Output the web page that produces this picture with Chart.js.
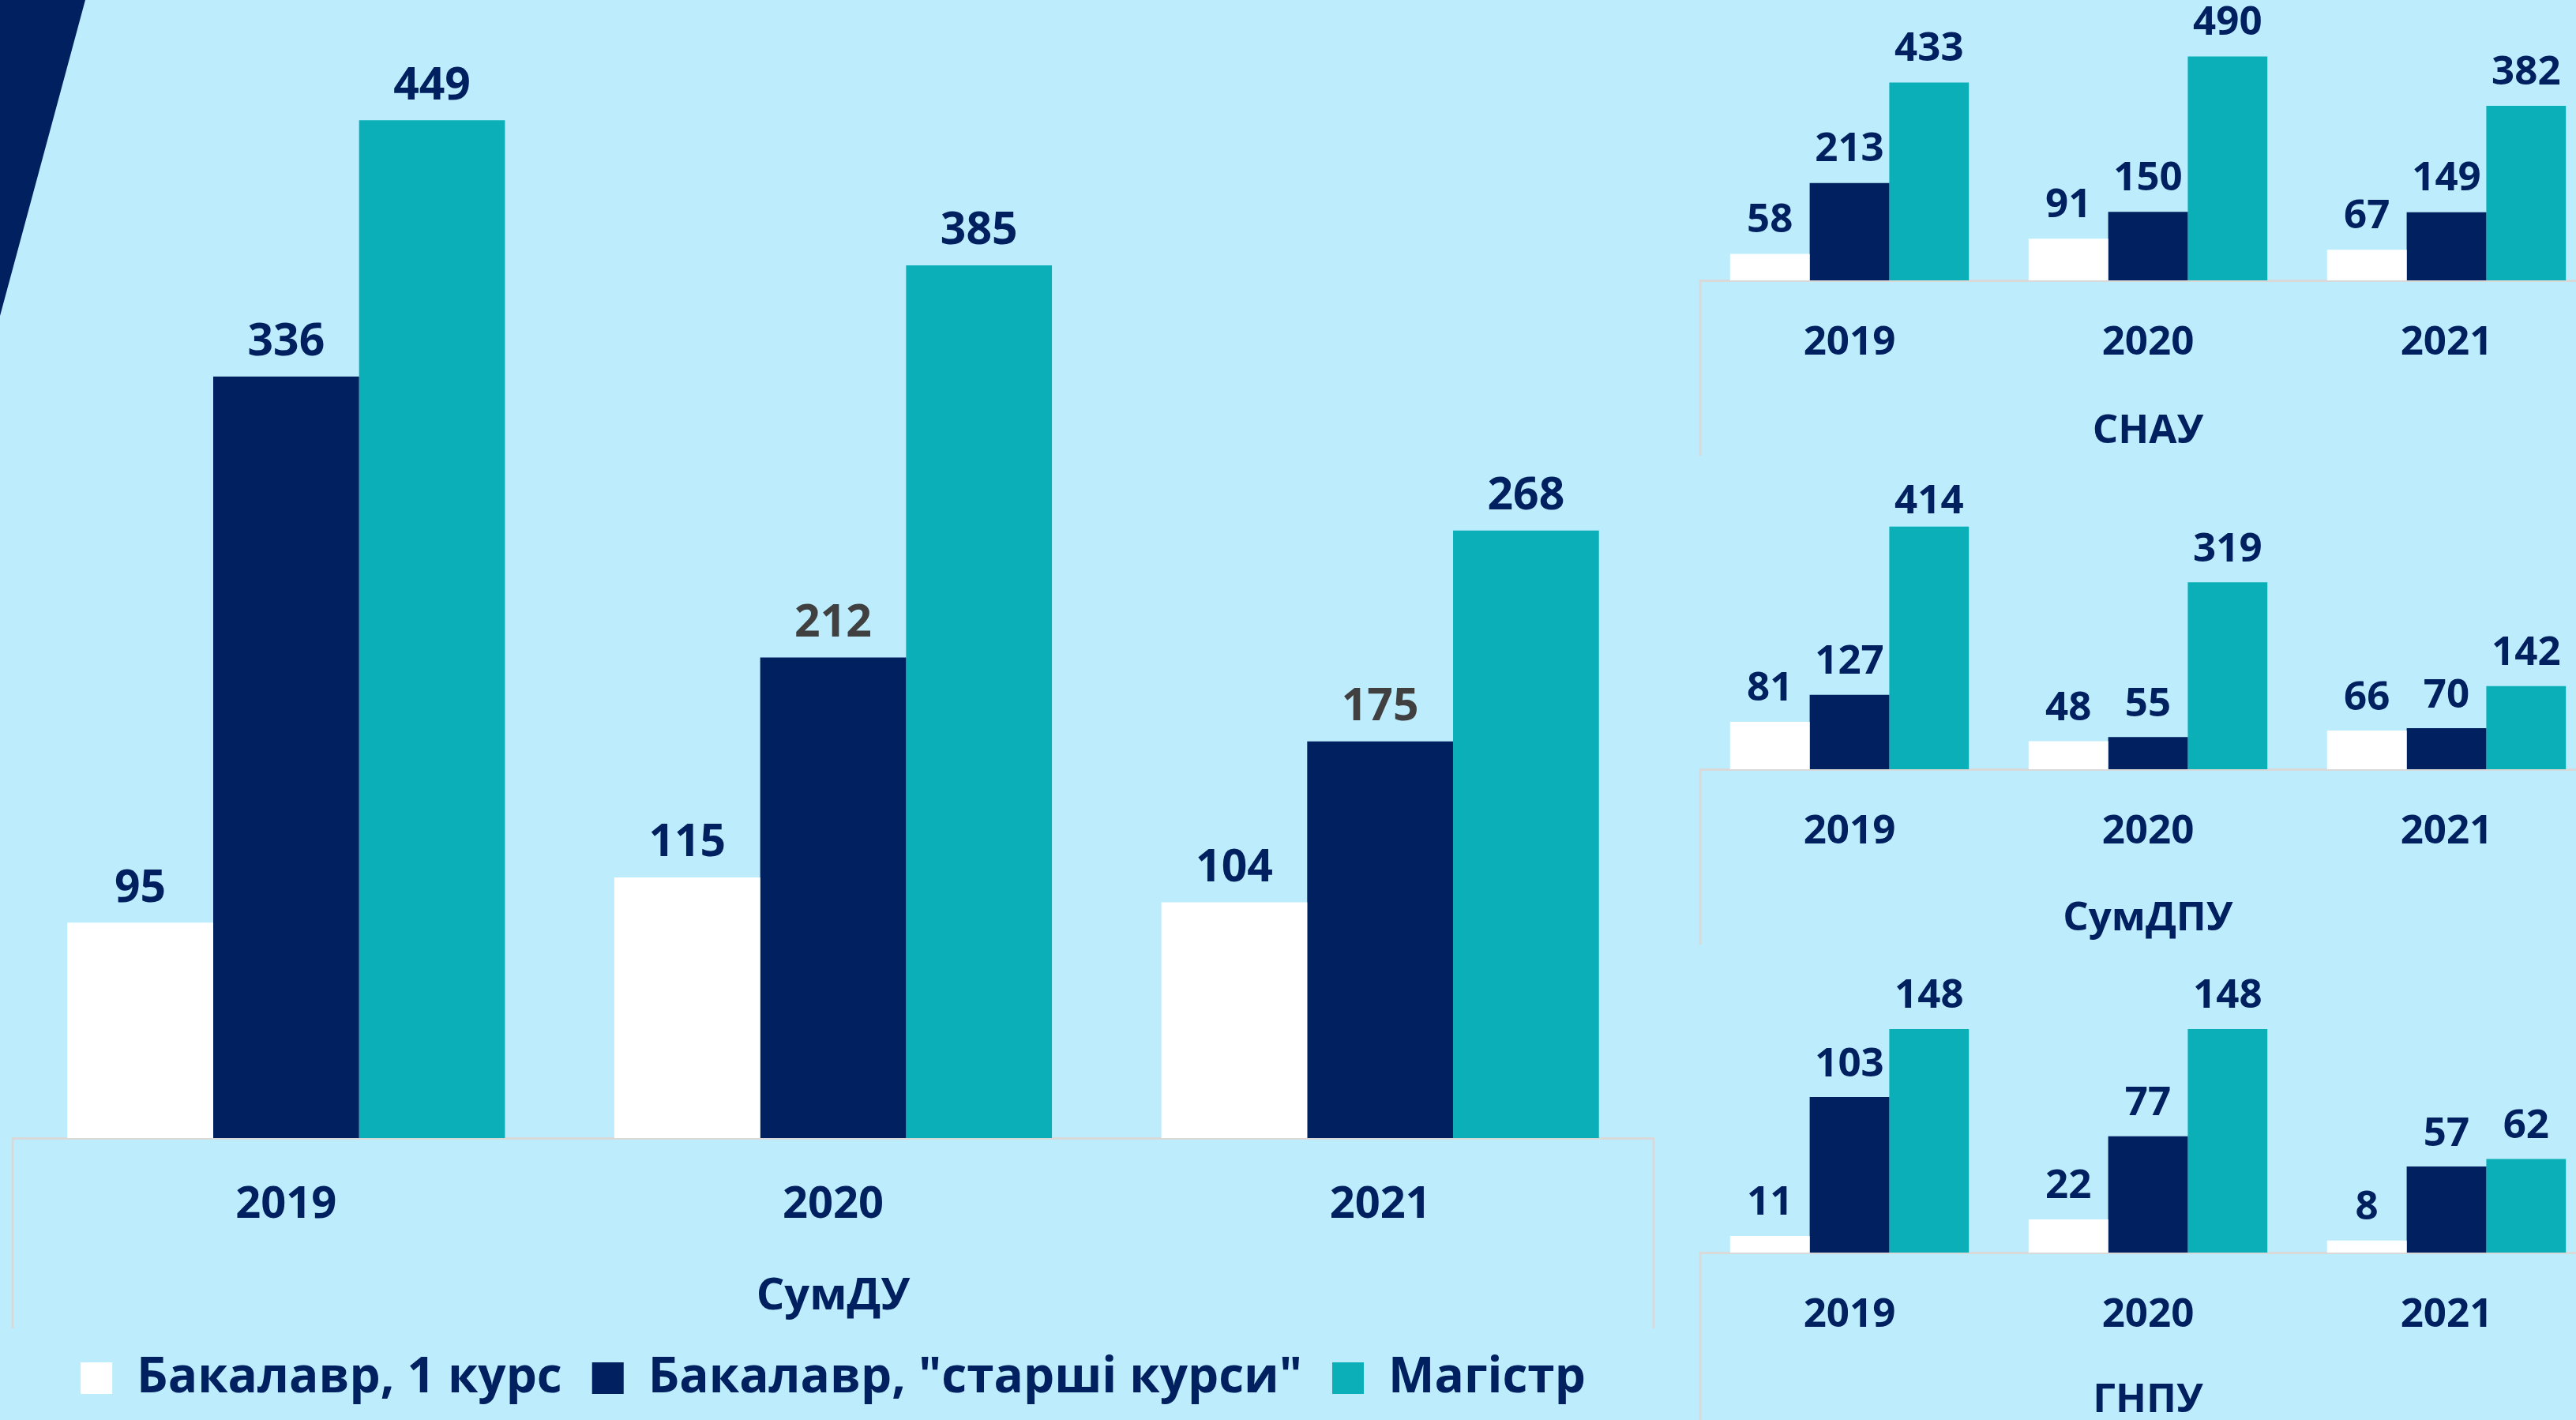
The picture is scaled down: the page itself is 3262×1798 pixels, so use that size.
<!DOCTYPE html>
<html>
<head>
<meta charset="utf-8">
<script src="https://cdn.jsdelivr.net/npm/chart.js@4.4.0/dist/chart.umd.min.js"></script>
<style>
  html, body { margin: 0; padding: 0; background: #BDEDFD; overflow: hidden; width: 3262px; height: 1798px; }
  .box { position: absolute; }
  .corner { position: absolute; left: 0; top: 0; width: 108px; height: 400px; background: #002060; clip-path: polygon(0 0, 100% 0, 0 100%); }
</style>
</head>
<body>
<div class="corner"></div>
<div class="box" id="mainBox" style="left:0px; top:0px; width:2146px; height:1786px;"><canvas id="main"></canvas></div>
<div class="box" id="snauBox" style="left:2140px; top:0px; width:1160px; height:577px;"><canvas id="snau"></canvas></div>
<div class="box" id="sumdpuBox" style="left:2140px; top:590px; width:1160px; height:606px;"><canvas id="sumdpu"></canvas></div>
<div class="box" id="gnpuBox" style="left:2140px; top:1200px; width:1160px; height:608px;"><canvas id="gnpu"></canvas></div>
<script>
const years = ['2019', '2020', '2021'];
const seriesNames = ['Бакалавр, 1 курс', 'Бакалавр, "старші курси"', 'Магістр'];

const sumduFirst = [95, 115, 104];
const sumduSenior = [336, 212, 175];
const sumduMaster = [449, 385, 268];

const snauFirst = [58, 91, 67];
const snauSenior = [213, 150, 149];
const snauMaster = [433, 490, 382];

const sumdpuFirst = [81, 48, 66];
const sumdpuSenior = [127, 55, 70];
const sumdpuMaster = [414, 319, 142];

const gnpuFirst = [11, 22, 8];
const gnpuSenior = [103, 77, 57];
const gnpuMaster = [148, 148, 62];

const colors = ['#FFFFFF', '#002060', '#0BAFB8'];
const textColor = '#002060';
const fontFamily = "'Open Sans', 'Noto Sans', sans-serif";

// value labels above the bars
const valueLabels = {
  id: 'valueLabels',
  afterDatasetsDraw(chart, args, opts) {
    const ctx = chart.ctx;
    ctx.save();
    ctx.font = 'bold ' + opts.size + 'px ' + fontFamily;
    ctx.textAlign = 'center';
    ctx.textBaseline = 'middle';
    chart.data.datasets.forEach((ds, i) => {
      chart.getDatasetMeta(i).data.forEach((bar, j) => {
        let key = i + '-' + j;
        ctx.fillStyle = (opts.colors && opts.colors[key]) || textColor;
        let off = (opts.shift && opts.shift[key]) || opts.offset;
        ctx.fillText(ds.data[j], bar.x, bar.y - off);
      });
    });
    ctx.restore();
  }
};

// side lines of the category axis box
const axisBox = {
  id: 'axisBox',
  afterDraw(chart, args, opts) {
    const ctx = chart.ctx;
    const a = chart.chartArea;
    ctx.save();
    ctx.strokeStyle = '#D9D9D9';
    ctx.lineWidth = 3;
    ctx.beginPath();
    ctx.moveTo(a.left, a.bottom);
    ctx.lineTo(a.left, a.bottom + opts.depth);
    ctx.moveTo(a.right, a.bottom);
    ctx.lineTo(a.right, a.bottom + opts.depth);
    ctx.stroke();
    ctx.restore();
  }
};

function makeChart(id, title, first, senior, master, cfg) {
  return new Chart(document.getElementById(id), {
    type: 'bar',
    data: {
      labels: years,
      datasets: [
        { label: seriesNames[0], data: first, backgroundColor: colors[0] },
        { label: seriesNames[1], data: senior, backgroundColor: colors[1] },
        { label: seriesNames[2], data: master, backgroundColor: colors[2] }
      ]
    },
    options: {
      responsive: true,
      maintainAspectRatio: false,
      animation: false,
      layout: { padding: cfg.padding },
      datasets: { bar: { categoryPercentage: 0.8, barPercentage: 1.0 } },
      scales: {
        x: {
          grid: { display: false },
          border: { display: true, color: '#D9D9D9', width: 3 },
          ticks: { color: textColor, padding: cfg.tickPad, font: { family: fontFamily, size: cfg.tickSize, weight: 'bold' } },
          title: { display: true, text: title, color: textColor, padding: { top: 0, bottom: cfg.titlePad }, font: { family: fontFamily, size: cfg.tickSize, weight: 'bold' } },
          afterFit: (scale) => { scale.height = cfg.axisHeight; }
        },
        y: { display: false, min: 0, max: cfg.max }
      },
      plugins: {
        legend: cfg.legend ? {
          display: true,
          position: 'bottom',
          labels: { color: textColor, boxWidth: 40, boxHeight: 40, padding: 38, font: { family: fontFamily, size: 62, weight: 'bold' } }
        } : { display: false },
        tooltip: { enabled: false },
        valueLabels: { size: cfg.labelSize, offset: cfg.labelOffset, colors: cfg.labelColors, shift: cfg.shift },
        axisBox: { depth: cfg.boxDepth }
      }
    },
    plugins: [valueLabels, axisBox]
  });
}

makeChart('main', 'СумДУ', sumduFirst, sumduSenior, sumduMaster, {
  padding: { top: 6, left: 16, right: 52, bottom: 0 },
  max: 500, tickPad: 43, tickSize: 56, titlePad: 0, axisHeight: 235, boxDepth: 241,
  labelSize: 57, labelOffset: 43, legend: true,
  labelColors: { '1-1': '#404040', '1-2': '#404040' }
});
makeChart('snau', 'СНАУ', snauFirst, snauSenior, snauMaster, {
  padding: { top: 8, left: 13, right: 13, bottom: 0 },
  max: 600, tickPad: 41, tickSize: 51, titlePad: 0, axisHeight: 222, boxDepth: 222,
  labelSize: 51, labelOffset: 42
});
makeChart('sumdpu', 'СумДПУ', sumdpuFirst, sumdpuSenior, sumdpuMaster, {
  padding: { top: 13, left: 13, right: 13, bottom: 0 },
  max: 500, tickPad: 41, tickSize: 51, titlePad: 2, axisHeight: 222, boxDepth: 222,
  labelSize: 51, labelOffset: 41, shift: { '2-0': 31 }
});
makeChart('gnpu', 'ГНПУ', gnpuFirst, gnpuSenior, gnpuMaster, {
  padding: { top: 80, left: 13, right: 13, bottom: 0 },
  max: 160, tickPad: 41, tickSize: 51, titlePad: 4, axisHeight: 222, boxDepth: 222,
  labelSize: 51, labelOffset: 41
});
</script>
</body>
</html>
